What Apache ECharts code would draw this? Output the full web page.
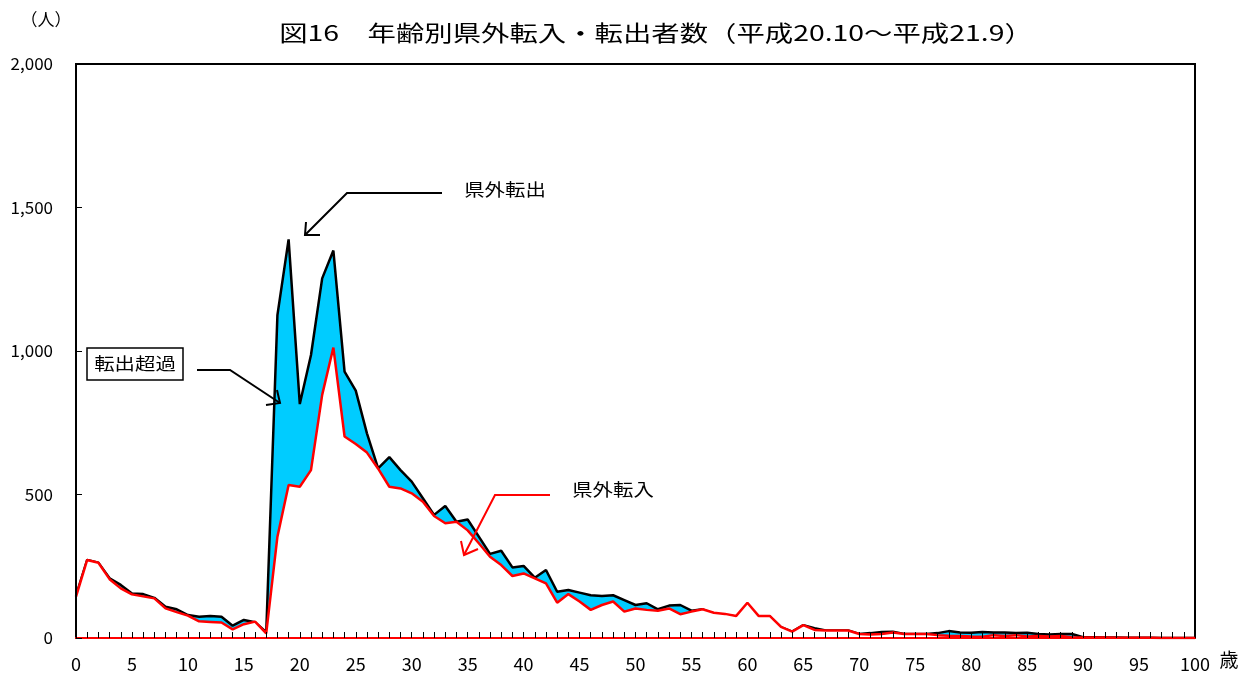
<!DOCTYPE html>
<html>
<head>
<meta charset="utf-8">
<script src="https://cdn.jsdelivr.net/npm/echarts@6/dist/echarts.min.js"></script>
<style>
html,body{margin:0;padding:0;background:#fff;}
#chart{width:1249px;height:677px;}
</style>
</head>
<body>
<div id="chart"></div>
<script>
// Ages 0..100
var ages = [];
for (var a = 0; a <= 100; a++) ages.push(String(a));

// 県外転出 (out-migration)
var outflow = [
  148,272,262,208,185,155,153,140,109,100,
  80,74,77,74,43,63,55,20,1125,1389,
  815,986,1253,1350,928,862,713,591,630,585,
  545,487,429,460,405,413,353,293,304,246,
  251,210,237,161,167,158,149,146,149,132,
  115,121,100,113,115,95,100,85,80,75,
  100,75,75,38,22,45,34,26,26,26,
  14,17,21,22,14,14,14,17,24,19,
  18,21,19,19,17,18,14,12,14,14,
  3,3,2,2,1,1,1,0,0,0,
  0
];

// 県外転入 (in-migration)
var inflow = [
  144,272,262,205,173,152,145,138,103,90,
  78,58,56,54,30,48,57,16,353,533,
  527,585,847,1012,702,676,646,590,527,521,
  504,475,425,400,405,375,330,283,254,216,
  225,208,190,123,153,127,98,115,127,92,
  103,98,95,103,83,92,100,88,84,77,
  123,77,77,39,22,45,28,26,26,26,
  14,12,14,19,14,14,14,10,8,7,
  5,4,10,7,10,5,7,5,7,3,
  2,2,2,1,1,1,1,0,0,0,
  0
];

var yTicks = [0, 500, 1000, 1500, 2000];

var chart = echarts.init(document.getElementById('chart'));
var fontJP = '"Noto Sans CJK JP", "Noto Sans", sans-serif';

chart.setOption({
  animation: false,
  backgroundColor: '#fff',
  grid: {
    left: 76, right: 54, top: 64, bottom: 39,
    show: true, borderColor: '#000', borderWidth: 2, backgroundColor: 'transparent'
  },
  xAxis: {
    type: 'category',
    data: ages,
    boundaryGap: false,
    z: 10,
    axisLine: { lineStyle: { color: '#ff0000', width: 2 } },
    axisTick: { inside: true, length: 6, interval: 0, lineStyle: { color: '#000', width: 1 } },
    axisLabel: { interval: 4, margin: 17, color: '#000', fontSize: 18, fontFamily: fontJP },
    splitLine: { show: false }
  },
  yAxis: {
    type: 'value',
    min: yTicks[0], max: yTicks[yTicks.length - 1], interval: 500,
    z: 10,
    axisLine: { show: true, lineStyle: { color: '#000', width: 2 } },
    axisTick: { show: true, inside: true, length: 6, lineStyle: { color: '#000', width: 1 } },
    axisLabel: {
      margin: 23, color: '#000', fontSize: 17, fontFamily: fontJP,
      formatter: function (v) { return v.toLocaleString('en-US'); }
    },
    splitLine: { show: false }
  },
  series: [
    {
      name: '県外転出',
      type: 'line',
      data: outflow,
      showSymbol: false,
      lineStyle: { color: '#000', width: 2.5 },
      areaStyle: { color: '#00ccff', opacity: 1 },
      z: 2
    },
    {
      name: '県外転入',
      type: 'line',
      data: inflow,
      showSymbol: false,
      lineStyle: { color: '#ff0000', width: 2.5 },
      areaStyle: { color: '#ffffff', opacity: 1 },
      z: 3
    }
  ],
  graphic: [
    { type: 'text', x: 656, y: 33, scaleX: 1.29, style: { text: '図16　年齢別県外転入・転出者数（平成20.10～平成21.9）', font: '22px ' + fontJP, fill: '#000', textAlign: 'center', textVerticalAlign: 'middle' } },
    { type: 'text', x: 46, y: 20, style: { text: '（人）', font: '17px ' + fontJP, fill: '#000', textAlign: 'center', textVerticalAlign: 'middle' } },
    { type: 'text', x: 1229, y: 660, style: { text: '歳', font: '19px ' + fontJP, fill: '#000', textAlign: 'center', textVerticalAlign: 'middle' } },
    // 県外転出 annotation
    { type: 'text', x: 505, y: 190, scaleX: 1.2, style: { text: '県外転出', font: '17px ' + fontJP, fill: '#000', textAlign: 'center', textVerticalAlign: 'middle' } },
    { type: 'polyline', z: 20, shape: { points: [[442,193],[347,193],[305,235]] }, style: { stroke: '#000', lineWidth: 2, fill: null } },
    { type: 'polyline', z: 20, shape: { points: [[306,222],[305,235],[320,235]] }, style: { stroke: '#000', lineWidth: 2, fill: null } },
    // 転出超過 annotation
    { type: 'rect', z: 20, shape: { x: 87, y: 348, width: 96, height: 32 }, style: { stroke: '#000', lineWidth: 1.5, fill: '#fff' } },
    { type: 'text', z: 21, x: 135, y: 364, scaleX: 1.2, style: { text: '転出超過', font: '17px ' + fontJP, fill: '#000', textAlign: 'center', textVerticalAlign: 'middle' } },
    { type: 'polyline', z: 20, shape: { points: [[197,370],[230,370],[280,403]] }, style: { stroke: '#000', lineWidth: 2, fill: null } },
    { type: 'polyline', z: 20, shape: { points: [[277,390],[280,403],[266,405]] }, style: { stroke: '#000', lineWidth: 2, fill: null } },
    // 県外転入 annotation
    { type: 'text', x: 613, y: 490, scaleX: 1.2, style: { text: '県外転入', font: '17px ' + fontJP, fill: '#000', textAlign: 'center', textVerticalAlign: 'middle' } },
    { type: 'polyline', z: 20, shape: { points: [[550,495],[495,495],[464,555]] }, style: { stroke: '#ff0000', lineWidth: 2, fill: null } },
    { type: 'polyline', z: 20, shape: { points: [[461,541],[464,555],[478,549]] }, style: { stroke: '#ff0000', lineWidth: 2, fill: null } }
  ]
});
</script>
</body>
</html>
